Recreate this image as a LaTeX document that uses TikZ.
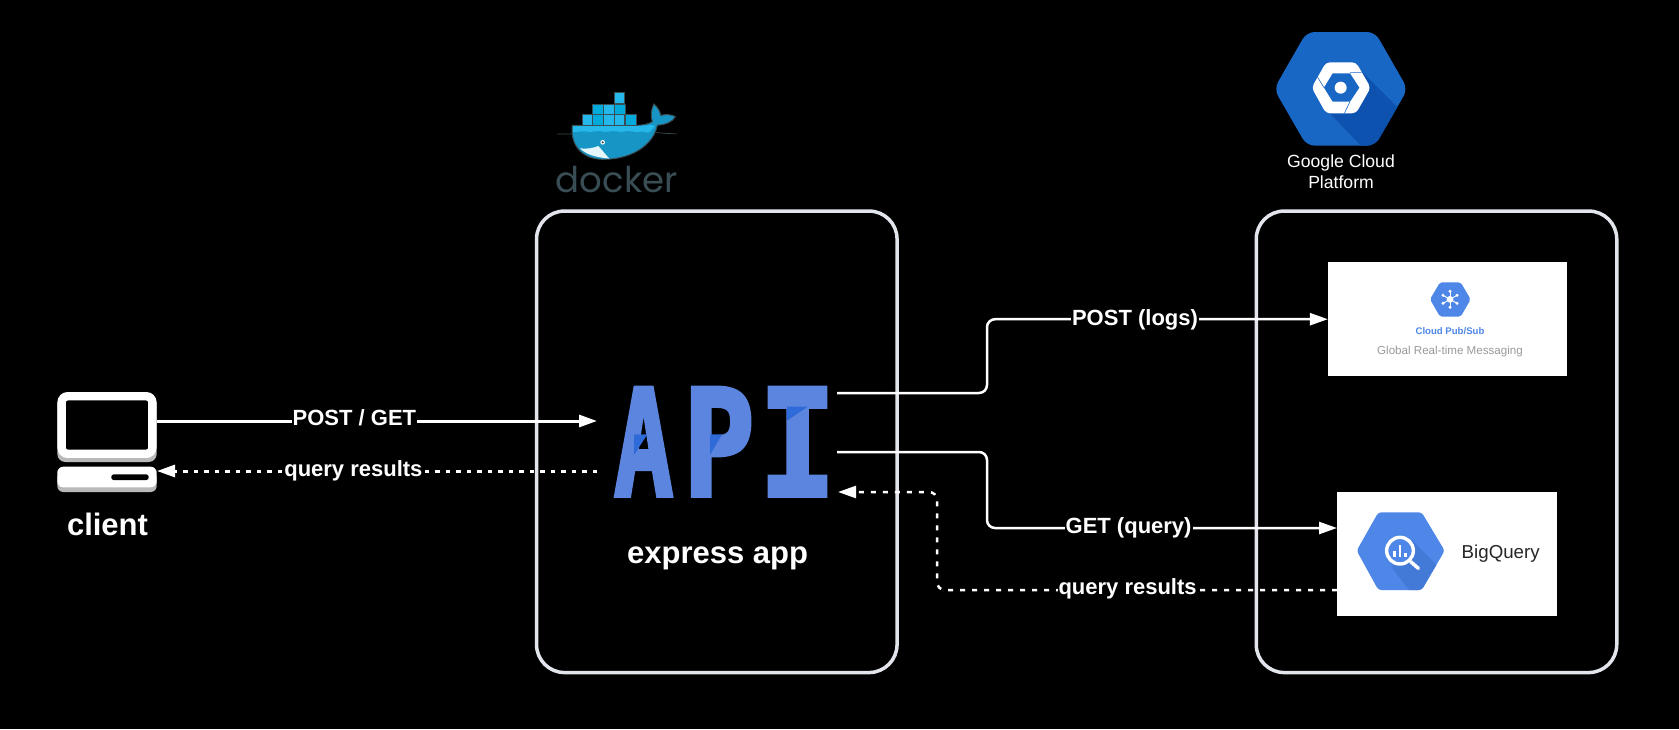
\documentclass[tikz,border=0pt]{standalone}
\usepackage{graphicx}
\usepackage{fontspec}
\setmainfont{Liberation Sans}
\newfontfamily\apifont[FakeBold=3]{DejaVu Sans Mono}
\newfontfamily\dockerfont{Poppins}
\usetikzlibrary{arrows.meta}
\definecolor{apiblue}{HTML}{5B85DE}
\definecolor{apifold}{HTML}{2F6BD8}
\definecolor{gcpblue}{HTML}{1967C4}
\definecolor{gcpdark}{HTML}{0D52AE}
\definecolor{hexblue}{HTML}{4E87E8}
\definecolor{hexdark}{HTML}{437AD8}
\definecolor{panelline}{HTML}{E3E5EC}
\definecolor{dockerdark}{HTML}{394D54}
\definecolor{boxlight}{HTML}{24B8EB}
\definecolor{boxdeep}{HTML}{00AADA}
\definecolor{hulldeep}{HTML}{1795C4}
\begin{document}
\begin{tikzpicture}[x=1pt,y=-1pt,
    panel/.style={draw=panelline,line width=3.5pt,rounded corners=28pt,inner sep=0pt,minimum width=360.5pt,minimum height=461.5pt},
    flow/.style={white,line width=2.5pt,rounded corners=8pt,-{Triangle[length=18pt,width=12pt]}},
    flowdots/.style={flow,dash pattern=on 5pt off 7pt},
    flowlabel/.style={fill=black,text=white,inner sep=1pt,font=\fontsize{22}{26}\selectfont\bfseries},
    bigtext/.style={text=white,inner sep=0pt,font=\fontsize{31}{36}\selectfont\bfseries},
    whitebox/.style={fill=white,inner sep=0pt},
    crate/.style={draw=dockerdark,line width=.5pt}]
  \useasboundingbox (0,0) rectangle (1679,729);
  \fill[black] (0,0) rectangle (1679,729);

  \node[panel] (dockerbox) at (716.8,441.8) {};
  \node[panel] (gcpbox) at (1436.5,441.8) {};

  \fill[gray!55,rounded corners=8pt] (57.3,396) rectangle (156.7,462);
  \node[draw=white,fill=black,line width=8.4pt,rounded corners=6pt,inner sep=0pt,minimum width=90.7pt,minimum height=57.5pt] (monitor) at (107,425) {};
  \fill[gray!55,rounded corners=6pt] (57.3,472) rectangle (156.7,492);
  \node[whitebox,rounded corners=6pt,minimum width=99.4pt,minimum height=20.6pt] (keyboard) at (107,477) {};
  \node[fill=black,rounded corners=2.5pt,inner sep=0pt,minimum width=37.4pt,minimum height=5.7pt] (slot) at (130,477.2) {};
  \node[bigtext] (client) at (107.5,524) {client};

  \node[text=apiblue,inner sep=0pt,anchor=west,font=\apifont\bfseries\fontsize{148}{148}\selectfont] (api) at (613.7,441.7) {\scalebox{.667}[1]{A}\kern10pt\scalebox{.8}[1]{P}\kern4.2pt\scalebox{.87}[1]{I}};
  \begin{scope}[shift={(600,375)},scale=1/3]
    \fill[apifold] (102,178) -- (142,178) -- (102,240) -- cycle;
    \fill[apifold] (330,178) -- (366,178) -- (330,240) -- cycle;
    \fill[apifold] (561,95) -- (623,95) -- (561,137) -- cycle;
  \end{scope}
  \node[bigtext] (express) at (717.6,558.4) {express app};

  \node[whitebox,minimum width=238.7pt,minimum height=113.7pt] (pubsub) at (1447.4,319.2) {};
  \begin{scope}[shift={(1320,250)},scale=1/3]
    \fill[hexblue,rounded corners=2pt] (330,148) -- (360,97) -- (422,97) -- (452,148) -- (422,200) -- (360,200) -- cycle;
    \fill[white] (390,148) circle (10);
    \foreach \px/\py in {390/124,369/136,411/136,369/160,411/160,390/172} {
      \fill[white] (\px,\py) circle (5);
      \draw[white,line width=.9pt] (390,148) -- (\px,\py);
    }
  \end{scope}
  \node[text=hexblue,inner sep=0pt,font=\fontsize{9.6}{12}\selectfont\bfseries] (pubsubname) at (1450,331) {Cloud Pub/Sub};
  \node[text=gray!80,inner sep=0pt,font=\fontsize{11.6}{14}\selectfont] (pubsubnote) at (1450,351) {Global Real-time Messaging};

  \node[whitebox,minimum width=220pt,minimum height=123.4pt] (bigquery) at (1447,554) {};
  \begin{scope}[shift={(1320,480)},scale=1/3]
    \fill[hexblue,rounded corners=3pt] (110,212) -- (175,97) -- (305,97) -- (374,212) -- (305,330) -- (175,330) -- cycle;
    \begin{scope}
      \clip[rounded corners=3pt] (110,212) -- (175,97) -- (305,97) -- (374,212) -- (305,330) -- (175,330) -- cycle;
      \fill[hexdark] (275,180) -- (420,325) -- (320,400) -- (215,262) -- cycle;
    \end{scope}
    \fill[hexblue] (240,212) circle (40);
    \draw[white,line width=3.4pt] (240,212) circle (40);
    \draw[white,line width=3.5pt,line cap=round] (272,245) -- (295,265);
    \fill[white] (219,212) rectangle (227,232);
    \fill[white] (236,196) rectangle (244,232);
    \fill[white] (253,218) rectangle (261,232);
  \end{scope}
  \node[text=black!85,inner sep=0pt,font=\fontsize{18.7}{22}\selectfont] (bigqueryname) at (1500.7,553.5) {BigQuery};

  \begin{scope}[shift={(520,80)},scale=1/3]
    \draw[dockerdark,line width=.7pt] (112,162) -- (157,162) (408,158) -- (470,162);
    \fill[hulldeep,draw=dockerdark,line width=1pt] (157,136) -- (345,136) .. controls (372,136) and (385,132) .. (397,125) .. controls (390,105) and (395,85) .. (402,72) .. controls (412,82) and (420,92) .. (422,106) .. controls (440,102) and (455,104) .. (466,110) .. controls (458,126) and (435,134) .. (412,136) .. controls (400,195) and (335,238) .. (250,238) .. controls (190,238) and (150,200) .. (157,136) -- cycle;
    \fill[boxlight] (159,138) -- (345,138) .. controls (372,138) and (385,134) .. (405,136) .. controls (400,145) and (395,152) .. (385,158) .. controls (365,150) and (350,160) .. (335,154) .. controls (315,150) and (305,160) .. (290,154) .. controls (270,150) and (260,160) .. (245,154) .. controls (225,150) and (215,160) .. (195,154) .. controls (180,152) and (170,158) .. (159,156) -- cycle;
    \fill[white!90!boxdeep] (180,205) .. controls (200,208) and (220,204) .. (235,198) .. controls (248,212) and (258,225) .. (268,236) .. controls (230,232) and (200,225) .. (180,205) -- cycle;
    \fill[white] (248,187) circle (7);
    \fill[dockerdark] (248,187) circle (3.5);
    \foreach \cx/\cy/\cc in {186/104/boxlight,218/104/boxdeep,250/104/boxlight,282/104/boxlight,316/104/boxdeep,218/72/boxdeep,250/72/boxlight,284/72/boxdeep,282/38/boxlight} {
      \fill[\cc,crate] (\cx,\cy) rectangle ++(32,32);
    }
  \end{scope}
  \node[text=dockerdark,inner sep=0pt,font=\dockerfont\fontsize{35.5}{40}\selectfont] (dockername) at (616.7,180) {docker};

  \begin{scope}[shift={(1250,20)},scale=1/3]
    \fill[gcpblue,rounded corners=8pt] (72,207) -- (170,36) -- (375,36) -- (473,207) -- (375,377) -- (170,377) -- cycle;
    \begin{scope}
      \clip[rounded corners=8pt] (72,207) -- (170,36) -- (375,36) -- (473,207) -- (375,377) -- (170,377) -- cycle;
      \fill[gcpdark] (335,155) -- (500,320) -- (400,420) -- (340,385) -- (225,265) -- cycle;
    \end{scope}
    \fill[white,rounded corners=4pt] (185,203) -- (228,127) -- (318,127) -- (362,203) -- (318,280) -- (228,280) -- cycle;
    \fill[gcpblue] (222,203) -- (248,160) -- (300,160) -- (328,203) -- (300,245) -- (248,245) -- cycle;
    \fill[white] (272,203) circle (18);
    \draw[gcpblue,line width=.6pt] (203,172) -- (222,203) (300,158) -- (335,158) (283,280) -- (300,245);
  \end{scope}
  \node[text=white,inner sep=0pt,align=center,font=\fontsize{17.6}{21}\selectfont] (gcpname) at (1341,172) {Google Cloud\\Platform};

  \coordinate (clientout) at (157,421);
  \coordinate (clientin) at (157,471);
  \coordinate (apileft) at (597,421);
  \coordinate (apiback) at (597,471);
  \coordinate (apiup) at (837,393);
  \coordinate (apidown) at (837,452);
  \coordinate (apiin) at (838,492);
  \coordinate (bqin) at (1337,528);
  \coordinate (bqout) at (1337,590);

  \draw[flow,line width=3pt] (clientout) -- (apileft);
  \draw[flowdots,line width=3pt,dash pattern=on 4.5pt off 6pt] (apiback) -- (clientin);
  \draw[flow] (apiup) -- (987,393) |- (pubsub.west);
  \draw[flow] (apidown) -- (987,452) |- (bqin);
  \draw[flowdots] (bqout) -- (937,590) |- (apiin);

  \node[flowlabel] (postget) at (354.4,418) {POST / GET};
  \node[flowlabel] (clientresults) at (353.4,471) {query results};
  \node[flowlabel] (postlogs) at (1135,320) {POST (logs)};
  \node[flowlabel] (getquery) at (1128.6,528) {GET (query)};
  \node[flowlabel] (bqresults) at (1127.6,589) {query results};
\end{tikzpicture}
\end{document}
